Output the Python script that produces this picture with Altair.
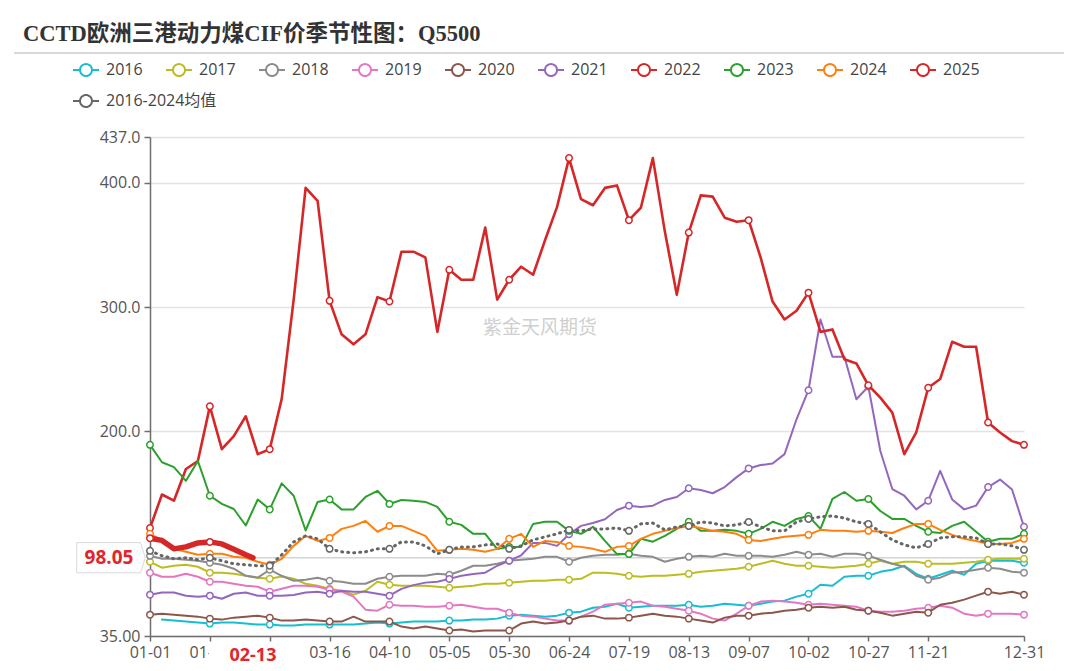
import altair as alt
import pandas as pd

# ---------------- data ----------------
DAYS = list(range(0, 365, 5)) + [365]          # day-of-year grid (base year 2024)
DAYS_2025 = [0, 5, 10, 15, 20, 25, 30, 35, 40, 43]

Y2016 = [None, 48.2, 47.4, 46.6, 45.8, 45.0, 45.8, 45.8, 45.0, 44.2,
         44.2, 43.4, 43.4, 44.2, 44.2, 44.2, 44.2, 44.2, 45.0, 45.8,
         45.0, 45.8, 46.6, 46.6, 46.6, 47.4, 47.4, 48.2, 48.2, 49.0,
         51.4, 52.2, 51.4, 50.6, 51.4, 53.8, 54.6, 57.8, 58.6, 61.0,
         57.8, 58.6, 59.4, 59.4, 59.4, 60.2, 58.6, 59.4, 61.0, 60.2,
         59.4, 61.0, 62.7, 63.5, 66.7, 69.0, 76.3, 75.5, 82.7, 83.5,
         83.5, 86.7, 88.4, 91.6, 85.1, 81.1, 84.3, 87.6, 84.3, 93.2,
         95.6, 95.6, 95.6, 94.0]

Y2017 = [94.8, 90.0, 91.6, 92.4, 90.8, 86.0, 86.0, 85.1, 83.5, 82.0,
         81.1, 83.0, 81.1, 77.1, 75.5, 73.1, 71.5, 68.3, 71.5, 78.7,
         76.3, 75.5, 75.5, 75.5, 74.7, 73.9, 74.7, 75.5, 77.1, 77.1,
         77.9, 78.7, 79.5, 79.5, 80.3, 80.3, 81.1, 86.0, 86.0, 85.1,
         83.5, 82.7, 83.5, 83.5, 84.3, 85.1, 86.7, 87.6, 88.4, 89.2,
         90.8, 93.2, 95.6, 93.2, 91.6, 91.6, 90.8, 90.0, 90.8, 91.6,
         93.2, 95.6, 93.2, 94.8, 94.8, 93.2, 93.2, 93.2, 94.0, 94.8,
         96.4, 97.2, 97.2, 97.2]

Y2018 = [99.6, 97.2, 97.2, 96.4, 95.6, 94.0, 92.4, 89.2, 83.5, 82.0,
         88.4, 83.5, 79.5, 80.3, 82.0, 79.5, 78.7, 77.1, 77.1, 81.1,
         82.7, 83.5, 83.5, 83.5, 85.1, 84.3, 87.6, 91.6, 91.6, 93.2,
         95.6, 96.4, 97.2, 98.8, 98.8, 94.8, 98.0, 99.6, 100.4, 100.4,
         101.2, 99.6, 98.8, 94.8, 97.2, 98.8, 99.6, 98.8, 101.2, 99.6,
         99.6, 99.6, 98.8, 100.4, 102.8, 100.4, 101.2, 98.8, 101.2, 101.2,
         99.6, 96.4, 93.2, 90.8, 83.5, 80.3, 82.0, 86.0, 86.7, 88.4,
         90.0, 89.2, 86.7, 86.0]

Y2019 = [86.0, 82.7, 82.7, 85.1, 82.7, 78.7, 78.7, 77.1, 75.5, 74.7,
         70.7, 73.1, 75.5, 75.5, 74.7, 72.3, 70.7, 66.7, 56.2, 55.4,
         60.2, 59.4, 59.4, 58.6, 58.6, 59.4, 60.2, 58.6, 57.0, 57.0,
         53.8, 51.4, 50.6, 49.0, 47.4, 47.4, 50.6, 54.6, 60.2, 61.0,
         61.8, 62.7, 59.4, 58.6, 57.0, 55.4, 53.0, 49.0, 47.4, 53.0,
         59.4, 62.7, 63.5, 62.7, 61.8, 60.2, 61.0, 60.2, 59.4, 58.6,
         55.4, 54.6, 54.6, 55.4, 57.0, 57.8, 59.4, 57.8, 53.0, 51.4,
         53.0, 53.0, 53.0, 52.2]

Y2020 = [52.2, 53.0, 52.2, 51.4, 50.6, 49.0, 48.2, 49.8, 50.6, 51.4,
         49.8, 47.4, 47.4, 48.2, 47.4, 46.6, 46.6, 50.6, 46.6, 46.6,
         46.6, 42.6, 41.0, 42.6, 41.0, 39.4, 40.2, 38.6, 39.4, 39.4,
         39.4, 45.0, 46.6, 45.0, 45.8, 47.4, 50.6, 51.4, 49.0, 49.0,
         49.8, 51.4, 53.0, 51.4, 50.6, 49.0, 47.4, 45.8, 49.8, 51.4,
         51.4, 53.0, 53.8, 55.4, 56.2, 57.8, 58.6, 57.8, 58.6, 56.2,
         55.4, 53.8, 51.4, 53.0, 54.6, 53.8, 60.2, 61.8, 64.3, 67.5,
         70.7, 69.0, 70.7, 68.3]

Y2021 = [68.3, 70.0, 70.0, 67.5, 66.7, 67.5, 65.0, 69.0, 70.0, 67.5,
         67.5, 67.5, 68.0, 70.0, 70.7, 69.0, 71.5, 70.7, 70.7, 69.0,
         67.5, 73.0, 76.0, 78.0, 78.7, 81.0, 83.5, 85.0, 86.0, 91.6,
         95.6, 100.0, 110.0, 110.0, 107.6, 117.0, 123.7, 126.0, 129.0, 136.5,
         140.0, 139.0, 140.0, 144.6, 147.0, 154.0, 152.6, 150.0, 155.0, 163.0,
         170.0, 172.7, 174.0, 181.5, 209.6, 233.0, 290.0, 260.0, 260.0, 225.7,
         236.0, 184.0, 153.4, 148.0, 137.0, 144.0, 168.0, 145.0, 137.0, 140.0,
         155.0, 161.0, 153.0, 123.0]

Y2022 = [122.0, 149.0, 144.0, 169.5, 176.0, 220.0, 185.5, 196.0, 212.0, 181.5,
         185.5, 226.0, 306.0, 396.0, 385.5, 305.0, 278.0, 270.0, 278.0, 308.0,
         304.5, 344.6, 344.6, 340.0, 280.0, 330.0, 322.0, 322.0, 364.0, 306.0,
         322.0, 332.5, 326.0, 354.0, 380.7, 420.0, 387.0, 382.0, 396.0, 398.0,
         370.0, 380.0, 420.0, 361.0, 310.0, 360.0, 390.0, 389.0, 372.0, 368.7,
         370.0, 340.0, 304.4, 290.0, 297.0, 311.6, 280.0, 282.0, 258.0, 254.6,
         237.0, 227.0, 215.0, 181.5, 199.0, 235.0, 242.0, 272.0, 268.0, 268.0,
         207.0, 199.0, 192.0, 189.0]

Y2023 = [189.0, 175.0, 171.0, 160.0, 176.0, 148.0, 141.4, 137.3, 124.0, 145.0,
         137.0, 158.0, 148.0, 120.0, 143.0, 145.0, 137.0, 137.0, 147.0, 152.0,
         141.4, 144.6, 144.0, 143.0, 139.0, 127.0, 124.5, 117.3, 117.3, 105.0,
         106.8, 106.8, 125.3, 127.0, 127.0, 119.7, 117.3, 123.0, 111.6, 101.0,
         101.0, 113.3, 111.0, 115.7, 121.3, 127.0, 119.7, 119.7, 120.5, 119.7,
         117.3, 121.3, 127.0, 123.7, 129.3, 131.7, 121.3, 145.4, 151.0, 144.0,
         145.4, 135.7, 129.3, 129.3, 123.7, 119.0, 118.0, 123.7, 127.0, 119.0,
         111.0, 113.3, 113.3, 117.3]

Y2024 = [117.3, 112.0, 105.2, 102.8, 100.4, 101.2, 101.2, 98.8, 98.0, 94.8,
         92.4, 97.2, 107.6, 115.7, 111.6, 114.0, 121.3, 123.7, 127.7, 119.0,
         123.7, 123.7, 119.7, 115.7, 103.6, 104.4, 105.2, 104.4, 102.8, 105.2,
         113.3, 117.3, 106.8, 111.6, 110.8, 107.6, 106.8, 105.2, 102.8, 106.8,
         107.6, 113.3, 117.3, 119.7, 122.0, 123.7, 122.0, 119.7, 119.0, 117.3,
         112.4, 111.6, 113.3, 114.9, 115.7, 116.5, 120.5, 119.7, 119.7, 119.0,
         119.7, 119.0, 118.0, 122.0, 125.3, 125.3, 120.5, 116.5, 113.3, 111.6,
         109.2, 109.2, 110.0, 113.3]

Y2025 = [113.8, 112.0, 105.2, 106.8, 110.0, 110.8, 109.2, 104.8, 100.4, 98.05]

YAVG = [103.6, 99.6, 97.2, 98.0, 96.4, 98.0, 95.6, 93.2, 92.4, 91.6,
        91.6, 100.4, 110.8, 115.7, 113.3, 105.2, 102.8, 102.0, 102.8, 105.2,
        105.2, 110.8, 110.8, 107.6, 101.2, 104.4, 106.8, 106.8, 108.4, 109.2,
        105.2, 107.6, 112.4, 114.9, 117.3, 120.5, 119.7, 121.3, 121.3, 122.0,
        119.7, 125.3, 126.0, 120.5, 122.9, 123.7, 126.9, 126.0, 123.7, 124.5,
        126.9, 122.9, 119.7, 119.7, 126.9, 129.3, 131.0, 131.7, 130.0, 126.9,
        125.3, 118.9, 112.4, 108.4, 106.0, 109.2, 114.0, 114.9, 114.9, 114.0,
        109.2, 109.2, 107.6, 104.4]

YEARS = ["2016", "2017", "2018", "2019", "2020", "2021", "2022", "2023",
         "2024", "2025"]
YEAR_COLORS = ["#17becf", "#bcbd22", "#8c8c8c", "#e377c2", "#8c564b", "#9467bd",
               "#d62728", "#2ca02c", "#ff7f0e", "#d62728"]
AVG_NAME = "2016-2024均值"
AVG_COLOR = "#666666"
TICK_DAYS = list(range(0, 326, 25)) + [365]
Y_TICKS = [35, 200, 300, 400, 437]
LATEST_DAY = 43
LATEST_VALUE = 98.05
LATEST_DATE = "02-13"
TITLE = "CCTD欧洲三港动力煤CIF价季节性图：Q5500"
WATERMARK = "紫金天风期货"

# ---------------- build long table ----------------
VALUES = {"2016": Y2016, "2017": Y2017, "2018": Y2018, "2019": Y2019,
          "2020": Y2020, "2021": Y2021, "2022": Y2022, "2023": Y2023,
          "2024": Y2024, "2025": Y2025, AVG_NAME: YAVG}
rows = []
for name in YEARS + [AVG_NAME]:
    days = DAYS_2025 if name == "2025" else DAYS
    for d, v in zip(days, VALUES[name]):
        if v is not None:
            rows.append({"day": d, "value": v, "series": name})
df = pd.DataFrame(rows)
latest = pd.DataFrame({"day": [LATEST_DAY], "value": [LATEST_VALUE],
                       "vlabel": [f"{LATEST_VALUE:.2f}"], "dlabel": [LATEST_DATE]})

FONT = "Open Sans, Noto Sans CJK SC"
LEGEND_SYMBOL = ("M-1,0L-0.46,0M0.46,0L1,0M-0.46,0A0.46,0.46,0,1,0,0.46,0"
                 "A0.46,0.46,0,1,0,-0.46,0Z")


def legend_at(y, cols):
    return alt.Legend(title=None, orient="none", legendX=-78, legendY=y,
                      direction="horizontal", columns=cols,
                      symbolType=LEGEND_SYMBOL, symbolSize=676,
                      symbolStrokeWidth=2, symbolFillColor="white",
                      symbolDash=[1, 0],
                      labelFont=FONT, labelFontSize=16, labelColor="#444",
                      labelFontWeight="normal",
                      labelOffset=6, columnPadding=19, rowPadding=5, padding=0)


# the tick label right under the latest-date marker is hidden by it, as in the source
x_enc = alt.X("day:Q", title=None,
              scale=alt.Scale(domain=[0, 365], nice=False, zero=False),
              axis=alt.Axis(values=TICK_DAYS, grid=False, labelOverlap=False,
                            labelFlush=False,
                            labelExpr="datum.value == 50 ? '' : timeFormat(datetime(2024, 0, 1 + datum.value), '%m-%d')"))
y_enc = alt.Y("value:Q", title=None,
              scale=alt.Scale(domain=[35, 437], nice=False, zero=False),
              axis=alt.Axis(values=Y_TICKS, grid=True,
                            labelExpr="datum.value == 35 ? '35.00' : format(datum.value, '.1f')"))
color_enc = alt.Color("series:N",
                      scale=alt.Scale(domain=YEARS, range=YEAR_COLORS),
                      legend=legend_at(-81, 10))
avg_enc = alt.Stroke("series:N",
                     scale=alt.Scale(domain=[AVG_NAME], range=[AVG_COLOR]),
                     legend=legend_at(-50, 1))

layers = []

# 98.05 reference line
layers.append(alt.Chart(latest).mark_rule(color="#d4d4d4", strokeWidth=1.5)
              .encode(y=y_enc))
# watermark
layers.append(alt.Chart(latest).mark_text(text=WATERMARK, font=FONT, fontSize=19,
                                          color="#cfcfcf")
              .encode(x=alt.value(390), y=alt.value(191)))

order = ["2016", "2017", "2018", "2019", "2020", "2021", "2022", "2023", "2024",
         AVG_NAME, "2025"]
for name in order:
    col = AVG_COLOR if name == AVG_NAME else YEAR_COLORS[YEARS.index(name)]
    base = alt.Chart(df).transform_filter(alt.datum.series == name)
    kw = dict(strokeWidth=2, strokeJoin="round", strokeCap="round")
    if name == "2022":
        kw["strokeWidth"] = 2.6
    if name == "2025":
        kw["strokeWidth"] = 5.5
    if name == AVG_NAME:
        kw["strokeDash"] = [1, 5]
        kw["strokeWidth"] = 3
        enc = dict(x=x_enc, y=y_enc, stroke=avg_enc)
    else:
        enc = dict(x=x_enc, y=y_enc, color=color_enc)
    layers.append(base.mark_line(**kw).encode(**enc))
    layers.append(base.transform_filter("datum.day % 25 == 0 || datum.day == 365")
                  .mark_point(shape="circle", filled=True, fill="white", fillOpacity=1,
                              stroke=col, strokeWidth=1.5, size=42, opacity=1)
                  .encode(x=x_enc, y=y_enc))

# latest-date label on the x axis
layers.append(alt.Chart(latest).mark_rect(color="white", xOffset=-44, x2Offset=40)
              .encode(x=x_enc, x2="day:Q", y=alt.value(506), y2=alt.value(532)))
layers.append(alt.Chart(latest).mark_text(font=FONT, fontSize=18, fontWeight="bold",
                                          color="#e3242b", baseline="middle")
              .encode(x=x_enc, y=alt.value(519), text="dlabel:N"))
# latest-value label on the y axis
layers.append(alt.Chart(latest).mark_point(
    shape="M-1,-0.44L0.86,-0.44L1,0L0.86,0.44L-1,0.44Z", size=4700, filled=True,
    fill="white", stroke="#d9d9d9", strokeWidth=1, opacity=1)
    .encode(x=alt.value(-39), y=y_enc))
layers.append(alt.Chart(latest).mark_text(font=FONT, fontSize=19, fontWeight="bold",
                                          color="#e3242b", baseline="middle")
              .encode(x=alt.value(-41), y=y_enc, text="vlabel:N"))
# separator under title
layers.append(alt.Chart(latest).mark_rule(color="#cccccc", strokeWidth=1.5)
              .encode(x=alt.value(-136), x2=alt.value(922), y=alt.value(-84)))

chart = alt.layer(*layers).properties(
    width=874, height=499,
    autosize=alt.AutoSizeParams(type="none"),
    padding={"left": 142, "top": 129, "right": 40, "bottom": 27},
    title=alt.TitleParams(TITLE, anchor="start", frame="group", orient="top",
                          font="Liberation Serif, Noto Sans CJK SC", fontSize=22.5,
                          fontWeight="bold", color="#333333", dx=-127, offset=7),
).configure_view(stroke=None).configure_axis(
    domainColor="#6e6e6e", domainWidth=1.5, tickColor="#6e6e6e", tickWidth=1.5,
    labelFont=FONT, labelFontSize=16, labelColor="#555555", gridColor="#e3e3e3",
    gridWidth=1.5, zindex=0
).configure_axisX(tickSize=5, labelPadding=3).configure_axisY(tickSize=6, labelPadding=4)

chart.save("out.html", embed_options={"renderer": "svg", "actions": False})
